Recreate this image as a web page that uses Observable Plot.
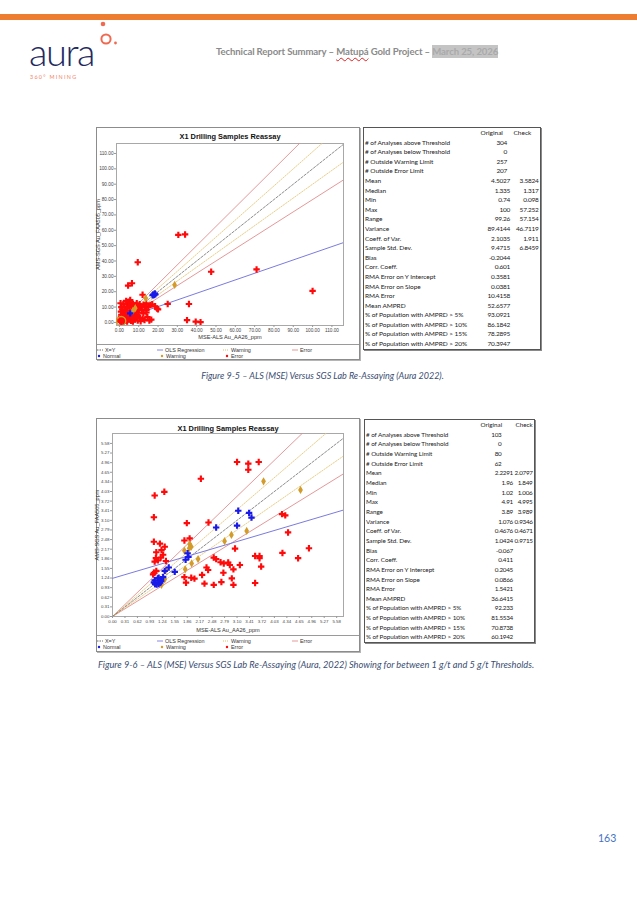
<!DOCTYPE html>
<html><head><meta charset="utf-8">
<script src="https://cdn.jsdelivr.net/npm/d3@7"></script>
<script src="https://cdn.jsdelivr.net/npm/@observablehq/plot@0.6"></script>
<style>
body{margin:0;background:#fff;}
#page{position:relative;width:637px;height:900px;overflow:hidden;background:#fff;font-family:Lato,'Open Sans',sans-serif;}
.abs{position:absolute;}
.chartbox{position:absolute;box-sizing:border-box;border:1px solid #8c8c8c;box-shadow:1px 1px 0 #b5b5b5;background:#fff;}
.chartbox svg{display:block;}
.legend{position:relative;height:16px;border-top:1px solid #9a9a9a;box-sizing:border-box;font-family:'Liberation Sans',Arial,sans-serif;font-size:5.4px;color:#333;}
.legend .it{position:absolute;white-space:nowrap;line-height:6px;display:flex;align-items:center;}
.stats{position:absolute;border-collapse:collapse;box-sizing:border-box;border:1px solid #555;box-shadow:1px 1px 0 #8a8a8a;font-family:Lato,sans-serif;color:#222;table-layout:fixed;background:#fff;}
.stats td{padding:0;white-space:nowrap;overflow:visible;}
.cap{position:absolute;font-family:Lato,sans-serif;font-style:italic;color:#3b4e72;white-space:nowrap;}
</style></head><body><div id="page"></div>
<script>
// ---------- data ----------
const headerText = "Technical Report Summary – ";
const headerProject = "Matupá";
const headerRest = " Gold Project – ";
const headerDate = "March 25, 2026";
const chartTitle = "X1 Drilling Samples Reassay";
const xAxisLabel = "MSE-ALS Au_AA26_ppm";
const yAxisLabel = "AMS-SGS Au_FAA505_ppm";
const legendRow1 = ["X=Y", "OLS Regression", "Warning", "Error"];
const legendRow2 = ["Normal", "Warning", "Error"];
const caption1 = "Figure 9-5 – ALS (MSE) Versus SGS Lab Re-Assaying (Aura 2022).";
const caption2 = "Figure 9-6 – ALS (MSE) Versus SGS Lab Re-Assaying (Aura, 2022) Showing for between 1 g/t and 5 g/t Thresholds.";
const pageNumber = "163";

const ticks1 = [0, 10, 20, 30, 40, 50, 60, 70, 80, 90, 100, 110];
const ticks2 = [0, 0.31, 0.62, 0.93, 1.24, 1.55, 1.86, 2.17, 2.48, 2.79, 3.10, 3.41, 3.72, 4.03, 4.34, 4.65, 4.96, 5.27, 5.58];

const warningFactor = 0.9;   // warning limit lines
const errorFactor = 0.8;     // error limit lines
const fig1Ols = {slope: 0.434, intercept: 1.63};
const fig2Ols = {slope: 0.383, intercept: 1.23};

const fig1Error = [
  [30.5,57],[34,57.3],[9.5,39.2],[47.5,33],[71,34.5],[100,20.5],[36,12],[35,1.5],[39.5,0.5],[42,0.2],
  [25,12],[20,8.5],[15.5,1.3],[13,1.5],[4.5,24],[6.5,25.5],[12,18],
  [3.9,12.4],[5.6,14.6],[4.8,13.5],[2.7,10.2],[8.2,11.3],[9.5,9.6],[11.6,8.1],[13.3,9.6],[15,10.2],[16,11.3],
  [12.4,5.9],[9,4.8],[10.7,3],[8,2],[6,1],[4,0.5],[2,0.3],[1,0.2],[0.5,1],[0.3,2],[1.5,3],[2.5,4],[3.5,5],
  [4.5,6],[5.5,7],[6.5,8],[7.5,9.5],[2,6],[1,5],[0.8,7],[1.5,8.5],[3,8],[4,9.5],[5,10.5],[6,11.5],[7,12],
  [3,2],[5,3],[6.5,4.5],[7.5,6],[8.5,7],[10,6.5],[11,10.5],[12.5,11.5],[14,8],[14.5,3.5],[16.5,1.8],[9.5,1.2],
  [11,0.8],[7,0.5],[5,2],[3,1],[1.5,1.5],[0.5,0.5],[2.5,2.5],[4,4],[6,6],[2,12],[1,10],[0.6,12.5],[3.5,14],
  [6.8,9.8],[9,12.5],[10.5,11.8],[13.8,12.5],[17,11.8],[18.5,10.5],[19.5,9],[12,2.5],[8.5,3.5],[14,6.5],
  [10,8.5],[1.8,1.8],[3.3,3.3],[0.8,3.8],[2.2,5.2],[4.2,7.2],[5.8,4.2],[7.2,2.8]
];
const fig1Normal = [[17.5,18.2],[18,17.8],[18.6,18.3],[17.2,17.7],[18.3,18.8],[5.6,5.9]];
const fig1Warning = [[13.6,15.7],[28.6,24.4],[8.2,9.3],[7,7.6]];
const fig1WarningRing = [[0.9,0.9]];

const fig2Error = [
  [1.05,3.9],[1.29,4.02],[1.03,3.2],[2.2,4.44],[1.85,3.01],[2.39,3.03],[1.03,2.41],[1.18,2.35],[1.09,2.07],
  [1.22,2.14],[1.3,2.25],[1.2,1.9],[1.26,1.99],[1.08,1.88],[1.05,1.77],[1.13,1.81],[1.33,1.79],[1.03,1.41],
  [1.09,1.47],[1.01,1.36],[1.79,2.45],[1.92,2.52],[1.79,1.27],[1.83,1.09],[1.96,1.25],[2.04,1.22],[2.23,1.34],
  [2.34,1.58],[2.38,1.5],[2.29,1.06],[2.52,1.02],[2.52,1.9],[2.58,1.85],[2.69,1.75],[2.77,1.71],[2.88,1.74],
  [2.76,1.41],[2.71,1.11],[2.97,1.23],[3.01,1.02],[3.01,1.52],[2.92,1.66],[3.05,2.19],[3.17,1.66],[3.55,1.95],
  [3.66,1.95],[3.66,1.88],[3.7,1.61],[3.55,1.08],[4.22,3.3],[4.3,3.26],[4.37,2.71],[4.23,2.05],[4.62,1.88],
  [4.89,2.2],[3.1,4.98],[3.38,4.93],[3.38,4.73],[3.64,4.98]
];
const fig2Normal = [
  [3.13,3.41],[3.4,3.34],[3.46,3.19],[3.1,2.93],[2.58,2.87],[1.87,2.04],[1.89,1.92],[1.82,1.83],[1.4,1.58],
  [1.3,1.47],[1.55,1.44],[1.26,1.27],[1.13,1.23],[1.05,1.17],[1.03,1.1],[1.06,1.05],[1.1,1.03],[1.15,1.05],
  [1.19,1.09],[1.21,1.15],[1.15,1.25]
];
const fig2Warning = [
  [3.76,4.36],[4.68,4.08],[3.34,2.76],[2.96,2.63],[2.79,2.43],[1.92,2.33],[1.96,2.25],[1.91,2.2],[1.79,2.12],
  [2.13,1.85],[1.97,1.71],[1.81,1.52],[1.33,1.49],[1.3,1.2],[1.22,1.02],[1.18,1.14]
];

const statHeaders = ["", "Original", "Check"];
const statLabels = [
  "# of Analyses above Threshold", "# of Analyses below Threshold", "# Outside Warning Limit", "# Outside Error Limit",
  "Mean", "Median", "Min", "Max", "Range", "Variance", "Coeff. of Var.", "Sample Std. Dev.", "Bias", "Corr. Coeff.",
  "RMA Error on Y Intercept", "RMA Error on Slope", "RMA Error", "Mean AMPRD",
  "% of Population with AMPRD > 5%", "% of Population with AMPRD > 10%", "% of Population with AMPRD > 15%", "% of Population with AMPRD > 20%"
];
const fig1Original = ["304","0","257","207","4.5027","1.335","0.74","100","99.26","89.4144","2.1035","9.4715","-0.2044","0.601","0.3581","0.0381","10.4158","52.6577","93.0921","86.1842","78.2895","70.3947"];
const fig1Check = ["","","","","3.5824","1.317","0.098","57.252","57.154","46.7119","1.911","6.8459","","","","","","","","","",""];
const fig2Original = ["103","0","80","62","2.2291","1.96","1.02","4.91","3.89","1.076","0.4676","1.0424","-0.067","0.411","0.2045","0.0866","1.5421","36.6415","92.233","81.5534","70.8738","60.1942"];
const fig2Check = ["","","","","2.0797","1.849","1.006","4.995","3.989","0.9346","0.4671","0.9715","","","","","","","","","",""];

// ---------- colours ----------
const C = {red:"#ff0a0a", blue:"#1a1ae8", gold:"#d29b2a", errLine:"#e28c8c", warnLine:"#e6c77c", xy:"#5a5a5a", ols:"#7b7be0"};

const page = document.getElementById("page");
function el(tag, cls, css, html) {
  const e = document.createElement(tag);
  if (cls) e.className = cls;
  if (css) e.style.cssText = css;
  if (html !== undefined) e.innerHTML = html;
  return e;
}

// ---------- header ----------
page.appendChild(el("div", "abs", "left:0;top:14px;width:637px;height:6px;background:#ed7d31;"));
page.appendChild(el("div", "abs", "left:29px;top:32px;font-family:Lato,sans-serif;font-weight:300;font-size:38px;line-height:38px;color:#1e2a5e;letter-spacing:-1.4px;", "aura"));
page.appendChild(el("div", "abs", "left:30px;top:74.4px;font-family:Lato,sans-serif;font-size:5.4px;line-height:7px;letter-spacing:1.3px;color:#f08466;", "360° MINING"));
const logoSvg = d3.create("svg").attr("width", 30).attr("height", 40).style("position","absolute").style("left","92px").style("top","16px");
logoSvg.append("circle").attr("cx", 14).attr("cy", 23).attr("r", 4.6).attr("fill","none").attr("stroke","#ef6a50").attr("stroke-width", 2);
logoSvg.append("circle").attr("cx", 11).attr("cy", 8).attr("r", 2.3).attr("fill","#ef6a50");
logoSvg.append("circle").attr("cx", 23.5).attr("cy", 27).attr("r", 1.4).attr("fill","#ef6a50");
page.appendChild(logoSvg.node());
page.appendChild(el("div", "abs", "left:216px;top:46px;font-family:Lato,sans-serif;font-weight:700;font-size:9.6px;line-height:12px;color:#8a8a8a;white-space:nowrap;letter-spacing:-0.12px;",
  headerText + `<span style="text-decoration:underline wavy #e02020;text-decoration-thickness:0.6px;text-underline-offset:1.5px;">${headerProject}</span>` + headerRest +
  `<span style="background:#c4c4c4;color:#a9a9a9;padding:1px 0;">${headerDate}</span>`));

// ---------- scatter chart ----------
function scatterChart(cfg) {
  const x1 = cfg.xDomain[1];
  const seg = (m, b) => [{x: 0, y: b}, {x: x1, y: b + m * x1}];
  const pt = {x: d => d[0], y: d => d[1]};
  const axisOpts = {ticks: cfg.ticks, tickFormat: d3.format(".2f"), tickSize: 2, tickPadding: 1, label: null, stroke: "#999", fill: "#444", fontSize: cfg.tickFont};
  return Plot.plot({
    width: 262, height: 216,
    marginLeft: cfg.ml, marginRight: 16, marginTop: cfg.mt, marginBottom: cfg.mb,
    x: {domain: cfg.xDomain}, y: {domain: cfg.yDomain},
    style: {fontFamily: "'Liberation Sans', Arial, sans-serif", fontSize: cfg.tickFont + "px", background: "#fff", color: "#444", overflow: "visible"},
    marks: [
      Plot.frame({stroke: "#a8a8a8"}),
      Plot.axisX(axisOpts),
      Plot.axisY(axisOpts),
      Plot.line(seg(1 / errorFactor, 0), {x: "x", y: "y", stroke: C.errLine, strokeWidth: 0.9, clip: true}),
      Plot.line(seg(errorFactor, 0), {x: "x", y: "y", stroke: C.errLine, strokeWidth: 0.9, clip: true}),
      Plot.line(seg(1 / warningFactor, 0), {x: "x", y: "y", stroke: C.warnLine, strokeWidth: 0.9, strokeDasharray: "1.4,1.4", clip: true}),
      Plot.line(seg(warningFactor, 0), {x: "x", y: "y", stroke: C.warnLine, strokeWidth: 0.9, strokeDasharray: "1.4,1.4", clip: true}),
      Plot.line(seg(1, 0), {x: "x", y: "y", stroke: C.xy, strokeWidth: 0.7, strokeDasharray: "2.4,1.6", clip: true}),
      Plot.line(seg(cfg.ols.slope, cfg.ols.intercept), {x: "x", y: "y", stroke: C.ols, strokeWidth: 1, clip: true}),
      Plot.dot(cfg.error, {...pt, symbol: "cross", r: 2.7, fill: C.red, clip: true}),
      Plot.dot(cfg.warning, {...pt, symbol: "diamond", r: 2.5, fill: C.gold, clip: true}),
      Plot.dot(cfg.ring || [], {...pt, r: 4.6, stroke: C.gold, strokeWidth: 1.4, fill: "none", clip: true}),
      Plot.dot(cfg.normal, {...pt, symbol: "cross", r: 2.7, fill: C.blue, clip: true}),
      Plot.text([chartTitle], {text: d => d, frameAnchor: "top", lineAnchor: "middle", dy: cfg.titleDy, fontSize: 7.4, fontWeight: "bold", fill: "#111"}),
      Plot.text([xAxisLabel], {text: d => d, frameAnchor: "bottom", lineAnchor: "middle", dy: cfg.xLabDy, fontSize: 5.6, fill: "#333"}),
      Plot.text([yAxisLabel], {text: d => d, frameAnchor: "left", textAnchor: "middle", lineAnchor: "middle", rotate: -90, dx: cfg.yLabDx, fontSize: 5.6, fill: "#333"})
    ]
  });
}

function legendBox() {
  const lg = el("div", "legend");
  const lineIcon = (color, dash) => `<svg width="6" height="4" style="margin-right:2px"><line x1="0" x2="6" y1="2" y2="2" stroke="${color}" stroke-width="0.9" ${dash ? `stroke-dasharray="${dash}"` : ""}/></svg>`;
  const dotIcon = (color) => `<svg width="4" height="4" style="margin-right:2px"><circle cx="2" cy="2" r="1.2" fill="${color}"/></svg>`;
  const r1 = [[0, lineIcon(C.xy, "1.5,1")], [60, lineIcon(C.ols)], [126, lineIcon("#d9b552", "1,1")], [195, lineIcon(C.errLine)]];
  r1.forEach(([x, icon], i) => lg.appendChild(el("div", "it", `left:${x}px;top:2px;`, icon + legendRow1[i])));
  const r2 = [[0, dotIcon(C.blue)], [63, dotIcon(C.gold)], [128, dotIcon(C.red)]];
  r2.forEach(([x, icon], i) => lg.appendChild(el("div", "it", `left:${x}px;top:8px;`, icon + legendRow2[i])));
  return lg;
}

function figure(top, height, cfg) {
  const box = el("div", "chartbox", `left:96px;top:${top}px;width:264px;height:${height}px;`);
  box.appendChild(scatterChart(cfg));
  box.appendChild(legendBox());
  page.appendChild(box);
}

function statsTable(left, top, widths, rowH, fontSize, intPad, hdrPad, original, check) {
  const t = el("table", "stats", `left:${left}px;top:${top}px;width:${widths.reduce((a, b) => a + b, 0)}px;font-size:${fontSize}px;`);
  const cg = el("colgroup");
  widths.forEach(w => cg.appendChild(el("col", "", `width:${w}px`)));
  t.appendChild(cg);
  const hr = el("tr", "", `height:${rowH}px;line-height:${rowH}px;`);
  statHeaders.forEach((h, i) => hr.appendChild(el("td", "", `text-align:left;padding-left:${i ? hdrPad[i - 1] : 0}px;`, h)));
  t.appendChild(hr);
  statLabels.forEach((lab, i) => {
    const tr = el("tr", "", `height:${rowH}px;line-height:${rowH}px;`);
    tr.appendChild(el("td", "", "padding-left:1px;letter-spacing:-0.05px;", lab));
    tr.appendChild(el("td", "", `text-align:right;padding-right:${i < 4 ? intPad : 1.5}px;letter-spacing:-0.25px;`, original[i]));
    tr.appendChild(el("td", "", "text-align:right;padding-right:1.5px;letter-spacing:-0.25px;", check[i]));
    t.appendChild(tr);
  });
  page.appendChild(t);
}

// ---------- figure 9-5 ----------
figure(127, 233, {
  xDomain: [-1.5, 116], yDomain: [-2, 116.5], ticks: ticks1, tickFont: 4.7,
  ml: 19, mt: 15, mb: 19, titleDy: -6.5, xLabDy: 12, yLabDx: -18,
  ols: fig1Ols, error: fig1Error, normal: fig1Normal, warning: fig1Warning, ring: fig1WarningRing
});
statsTable(363, 127, [108, 40, 29], 9.6, 6.5, 4.5, [9, 2], fig1Original, fig1Check);
page.appendChild(el("div", "cap", "left:0;width:637px;text-align:center;top:371px;font-size:9px;line-height:10px;padding-left:8px;box-sizing:border-box;", caption1));

// ---------- figure 9-6 ----------
figure(418, 234, {
  xDomain: [0, 5.75], yDomain: [0, 5.9], ticks: ticks2, tickFont: 4.4,
  ml: 15, mt: 14, mb: 19, titleDy: -5, xLabDy: 14, yLabDx: -15,
  ols: fig2Ols, error: fig2Error, normal: fig2Normal, warning: fig2Warning
});
statsTable(364, 419, [114, 36, 20], 9.65, 6.3, 13, [2, 1], fig2Original, fig2Check);
page.appendChild(el("div", "cap", "left:98px;top:660px;font-size:9.25px;line-height:10px;", caption2));

// ---------- page number ----------
page.appendChild(el("div", "abs", "left:598px;top:832px;font-family:Lato,sans-serif;font-size:10.5px;color:#4472c4;", pageNumber));
</script></body></html>
